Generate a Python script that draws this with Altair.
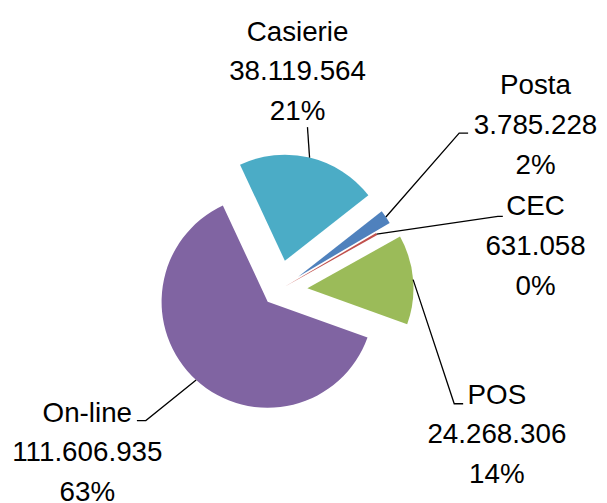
import altair as alt
import numpy as np
import pandas as pd

# ---- data ----
CATEGORIES = ["Casierie", "Posta", "CEC", "POS", "On-line"]
VALUES = [38119564, 3785228, 631058, 24268306, 111606935]

# ---- styles / layout ----
COLORS = ["#4BACC6", "#4F81BD", "#C0504D", "#9BBB59", "#8064A2"]
EXPLODE = [31, 25, 8, 30, 15]          # px shift of each slice
CENTER = (280, 291)                    # pie centre (page px)
RADIUS = 107
START_DEG = 335                        # first slice start (clockwise from 12 o'clock)
LABEL_POS = [(300, 39), (540, 93), (540, 215), (501, 405), (88, 423)]   # centre x, first baseline
LEADER_ELBOWS = [
    [(310, 126)],
    [(463, 132), (472, 132)],
    [(502, 216), (507, 216)],
    [(458, 405), (467, 405)],
    [(147, 422), (138, 422)],
]
FONT = "'Liberation Sans', Arial, sans-serif"

W, H = 596, 495
total = float(sum(VALUES))
start = np.deg2rad(START_DEG)

cum = np.cumsum(VALUES)
t0 = cum - np.array(VALUES)
t1 = cum
mid = start + 2 * np.pi * (t0 + t1) / 2 / total

rows = []
for i, c in enumerate(CATEGORIES):
    cx = CENTER[0] + EXPLODE[i] * np.sin(mid[i])
    cy = CENTER[1] - EXPLODE[i] * np.cos(mid[i])
    rows.append(dict(cat=c, value=VALUES[i], t0=float(t0[i]), t1=float(t1[i]),
                     cx=float(cx), cy=float(cy)))
df = pd.DataFrame(rows)

lab_rows = []
for i, c in enumerate(CATEGORIES):
    v = VALUES[i]
    txt = f"{c}\n{v:,}".replace(",", ".") + f"\n{round(100 * v / total)}%"
    lab_rows.append(dict(cat=c, text=txt, lx=LABEL_POS[i][0], ly=LABEL_POS[i][1]))
labels = pd.DataFrame(lab_rows)

line_rows = []
for i, c in enumerate(CATEGORIES):
    r = RADIUS + EXPLODE[i]
    sx = CENTER[0] + r * np.sin(mid[i])
    sy = CENTER[1] - r * np.cos(mid[i])
    pts = [(sx, sy)] + LEADER_ELBOWS[i]
    for k, (px, py) in enumerate(pts):
        line_rows.append(dict(cat=c, k=k, px=float(px), py=float(py)))
lines = pd.DataFrame(line_rows)

xs = alt.Scale(domain=[8, 8 + W], range=[0, W])
ys = alt.Scale(domain=[8, 8 + H], range=[0, H])
ts = alt.Scale(domain=[0, total], range=[float(start), float(start + 2 * np.pi)])
cs = alt.Scale(domain=CATEGORIES, range=COLORS)

arcs = alt.Chart(df).mark_arc(radius=RADIUS).encode(
    x=alt.X("cx:Q", scale=xs, axis=None),
    y=alt.Y("cy:Q", scale=ys, axis=None),
    theta=alt.Theta("t0:Q", scale=ts, stack=None),
    theta2="t1:Q",
    color=alt.Color("cat:N", scale=cs, legend=None),
)

leaders = alt.Chart(lines).mark_line(color="black", strokeWidth=1.3).encode(
    x=alt.X("px:Q", scale=xs, axis=None),
    y=alt.Y("py:Q", scale=ys, axis=None),
    detail="cat:N",
    order="k:Q",
)

texts = alt.Chart(labels).mark_text(
    font=FONT, fontSize=28, lineHeight=40, lineBreak="\n",
    align="center", baseline="alphabetic", color="black",
).encode(
    x=alt.X("lx:Q", scale=xs, axis=None),
    y=alt.Y("ly:Q", scale=ys, axis=None),
    text="text:N",
)

chart = alt.layer(arcs, leaders, texts).properties(
    width=W, height=H, padding=0,
    autosize=alt.AutoSizeParams(type="none"),
).configure_view(stroke=None)

chart.save("out.html", embed_options={"renderer": "svg", "actions": False})
